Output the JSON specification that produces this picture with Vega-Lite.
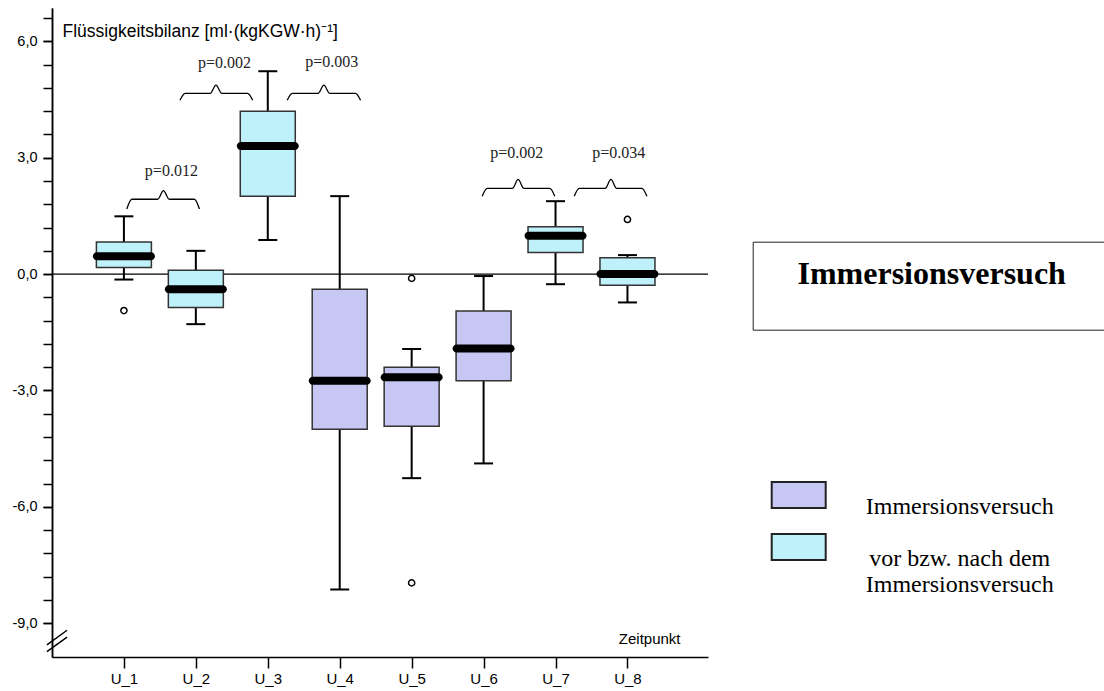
{
  "$schema": "https://vega.github.io/schema/vega-lite/v6.json",
  "width": 656,
  "height": 649,
  "autosize": {"type": "none"},
  "padding": {"left": 52, "top": 8, "right": 396, "bottom": 34},
  "background": "white",
  "resolve": {"axis": {"y": "independent"}},
  "config": {
    "view": {"stroke": null},
    "axis": {"grid": false, "domainColor": "black", "tickColor": "black", "labelColor": "black", "titleColor": "black", "domainWidth": 1.5, "tickWidth": 1.5}
  },
  "datasets": {
    "boxes": [
      {"t": 1, "grp": "vor bzw. nach dem Immersionsversuch", "lower": -0.14, "q1": 0.17, "median": 0.46, "q3": 0.83, "upper": 1.49},
      {"t": 2, "grp": "vor bzw. nach dem Immersionsversuch", "lower": -1.29, "q1": -0.86, "median": -0.39, "q3": 0.10, "upper": 0.60},
      {"t": 3, "grp": "vor bzw. nach dem Immersionsversuch", "lower": 0.88, "q1": 2.01, "median": 3.30, "q3": 4.20, "upper": 5.23},
      {"t": 4, "grp": "Immersionsversuch", "lower": -8.13, "q1": -4.00, "median": -2.75, "q3": -0.39, "upper": 2.01},
      {"t": 5, "grp": "Immersionsversuch", "lower": -5.26, "q1": -3.92, "median": -2.66, "q3": -2.40, "upper": -1.93},
      {"t": 6, "grp": "Immersionsversuch", "lower": -4.88, "q1": -2.75, "median": -1.92, "q3": -0.95, "upper": -0.05},
      {"t": 7, "grp": "vor bzw. nach dem Immersionsversuch", "lower": -0.26, "q1": 0.56, "median": 0.99, "q3": 1.22, "upper": 1.88},
      {"t": 8, "grp": "vor bzw. nach dem Immersionsversuch", "lower": -0.73, "q1": -0.29, "median": 0.0, "q3": 0.42, "upper": 0.49}
    ],
    "outliers": [
      {"t": 1, "v": -0.94},
      {"t": 5, "v": -0.11},
      {"t": 5, "v": -7.96},
      {"t": 8, "v": 1.41}
    ],
    "braces": [
      {"id": 1, "i": 1, "x": 1.04, "y": 1.68}, {"id": 1, "i": 2, "x": 1.11, "y": 1.93}, {"id": 1, "i": 3, "x": 1.47, "y": 1.93}, {"id": 1, "i": 4, "x": 1.55, "y": 2.15}, {"id": 1, "i": 5, "x": 1.63, "y": 1.93}, {"id": 1, "i": 6, "x": 1.98, "y": 1.93}, {"id": 1, "i": 7, "x": 2.05, "y": 1.68},
      {"id": 2, "i": 1, "x": 1.78, "y": 4.48}, {"id": 2, "i": 2, "x": 1.85, "y": 4.66}, {"id": 2, "i": 3, "x": 2.20, "y": 4.66}, {"id": 2, "i": 4, "x": 2.28, "y": 4.87}, {"id": 2, "i": 5, "x": 2.36, "y": 4.66}, {"id": 2, "i": 6, "x": 2.72, "y": 4.66}, {"id": 2, "i": 7, "x": 2.79, "y": 4.48},
      {"id": 3, "i": 1, "x": 3.27, "y": 4.48}, {"id": 3, "i": 2, "x": 3.34, "y": 4.66}, {"id": 3, "i": 3, "x": 3.70, "y": 4.66}, {"id": 3, "i": 4, "x": 3.78, "y": 4.87}, {"id": 3, "i": 5, "x": 3.86, "y": 4.66}, {"id": 3, "i": 6, "x": 4.22, "y": 4.66}, {"id": 3, "i": 7, "x": 4.29, "y": 4.48},
      {"id": 4, "i": 1, "x": 5.98, "y": 2.01}, {"id": 4, "i": 2, "x": 6.05, "y": 2.21}, {"id": 4, "i": 3, "x": 6.40, "y": 2.21}, {"id": 4, "i": 4, "x": 6.48, "y": 2.44}, {"id": 4, "i": 5, "x": 6.56, "y": 2.21}, {"id": 4, "i": 6, "x": 6.92, "y": 2.21}, {"id": 4, "i": 7, "x": 6.99, "y": 2.01},
      {"id": 5, "i": 1, "x": 7.26, "y": 2.01}, {"id": 5, "i": 2, "x": 7.33, "y": 2.21}, {"id": 5, "i": 3, "x": 7.69, "y": 2.21}, {"id": 5, "i": 4, "x": 7.77, "y": 2.44}, {"id": 5, "i": 5, "x": 7.85, "y": 2.21}, {"id": 5, "i": 6, "x": 8.20, "y": 2.21}, {"id": 5, "i": 7, "x": 8.27, "y": 2.01}
    ],
    "pvals": [
      {"x": 1.66, "y": 2.66, "label": "p=0.012"},
      {"x": 2.40, "y": 5.43, "label": "p=0.002"},
      {"x": 3.89, "y": 5.47, "label": "p=0.003"},
      {"x": 6.46, "y": 3.11, "label": "p=0.002"},
      {"x": 7.88, "y": 3.11, "label": "p=0.034"}
    ],
    "breaks": [
      {"x": -0.07, "y": -9.73, "x2": 0.21, "y2": -9.36},
      {"x": -0.07, "y": -9.56, "x2": 0.21, "y2": -9.18}
    ]
  },
  "layer": [
    {
      "data": {"values": [{"v": 0}]},
      "mark": {"type": "rule", "stroke": "black", "strokeWidth": 1.2},
      "encoding": {
        "y": {
          "field": "v", "type": "quantitative",
          "scale": {"domain": [-9.87, 6.86], "nice": false, "zero": false},
          "axis": {
            "orient": "left",
            "title": "Flüssigkeitsbilanz [ml·(kgKGW·h)⁻¹]",
            "titleFont": "Liberation Sans", "titleFontSize": 17.5, "titleFontWeight": "normal",
            "titleAngle": 0, "titleAlign": "left", "titleBaseline": "alphabetic", "titleX": 10, "titleY": 28,
            "values": [-9, -6, -3, 0, 3, 6],
            "labelExpr": "replace(replace(format(datum.value, '.1f'), '.', ','), '−', '-')",
            "labelFont": "Liberation Sans", "labelFontSize": 14.5, "labelPadding": 6, "tickSize": 9,
            "labelOverlap": false
          }
        },
        "strokeDash": {
          "datum": "Rahmen", "type": "nominal",
          "scale": {"range": [[1, 0]]},
          "legend": {
            "orient": "none", "legendX": 700.7, "legendY": 233.7,
            "title": "Immersionsversuch",
            "titleFont": "Liberation Serif", "titleFontSize": 32, "titleFontWeight": "bold", "titleColor": "black",
            "titleAnchor": "middle", "titleBaseline": "top", "titlePadding": 20, "titleLimit": 1000,
            "padding": 17, "strokeColor": "#222",
            "labelExpr": "' '", "labelFontSize": 2, "labelOpacity": 0, "labelOffset": 322,
            "symbolType": "M-1,0H1", "symbolSize": 4, "symbolOpacity": 0, "symbolStrokeWidth": 0,
            "encode": {
              "legend": {"update": {"strokeWidth": {"value": 1.5}}}
            }
          }
        }
      }
    },
    {
      "data": {"name": "boxes"},
      "mark": {"type": "rule", "stroke": "black", "strokeWidth": 2},
      "encoding": {
        "x": {
          "field": "t", "type": "quantitative", "title": "Zeitpunkt",
          "scale": {"domain": [0.07, 9.05], "nice": false, "zero": false},
          "axis": {
            "title": "Zeitpunkt",
            "titleFont": "Liberation Sans", "titleFontSize": 15, "titleFontWeight": "normal",
            "titleAlign": "right", "titleBaseline": "alphabetic", "titleX": 628, "titleY": -14,
            "values": [1, 2, 3, 4, 5, 6, 7, 8],
            "labelExpr": "'U_' + datum.value",
            "labelFont": "Liberation Sans", "labelFontSize": 15, "labelPadding": 3, "tickSize": 11
          }
        },
        "y": {
          "field": "lower", "type": "quantitative",
          "scale": {"domain": [-9.87, 6.86], "nice": false, "zero": false},
          "axis": {
            "orient": "left", "title": null, "labels": false, "tickSize": 9,
            "values": [-9, -8.4, -7.8, -7.2, -6.6, -6, -5.4, -4.8, -4.2, -3.6, -3, -2.4, -1.8, -1.2, -0.6, 0, 0.6, 1.2, 1.8, 2.4, 3, 3.6, 4.2, 4.8, 5.4, 6, 6.6]
          }
        },
        "y2": {"field": "upper"}
      }
    },
    {
      "data": {"name": "boxes"},
      "mark": {"type": "tick", "orient": "horizontal", "color": "black", "opacity": 1, "size": 19, "thickness": 2},
      "encoding": {
        "x": {"field": "t", "type": "quantitative", "title": "Zeitpunkt", "scale": {"domain": [0.07, 9.05], "nice": false, "zero": false}},
        "y": {"field": "lower", "type": "quantitative", "scale": {"domain": [-9.87, 6.86], "nice": false, "zero": false}, "axis": null}
      }
    },
    {
      "data": {"name": "boxes"},
      "mark": {"type": "tick", "orient": "horizontal", "color": "black", "opacity": 1, "size": 19, "thickness": 2},
      "encoding": {
        "x": {"field": "t", "type": "quantitative", "title": "Zeitpunkt", "scale": {"domain": [0.07, 9.05], "nice": false, "zero": false}},
        "y": {"field": "upper", "type": "quantitative", "scale": {"domain": [-9.87, 6.86], "nice": false, "zero": false}, "axis": null}
      }
    },
    {
      "data": {"name": "boxes"},
      "mark": {"type": "bar", "size": 55, "stroke": "#333333", "strokeWidth": 1.5, "opacity": 1},
      "encoding": {
        "x": {"field": "t", "type": "quantitative", "title": "Zeitpunkt", "scale": {"domain": [0.07, 9.05], "nice": false, "zero": false}},
        "y": {"field": "q3", "type": "quantitative", "scale": {"domain": [-9.87, 6.86], "nice": false, "zero": false}, "axis": null},
        "y2": {"field": "q1"},
        "fill": {
          "field": "grp", "type": "nominal",
          "scale": {"domain": ["Immersionsversuch", "vor bzw. nach dem Immersionsversuch"], "range": ["#c6c7f3", "#bff1fb"]},
          "legend": {
            "orient": "none", "legendX": 718.7, "legendY": 459,
            "title": null, "padding": 0, "rowPadding": 0,
            "symbolType": "M-1,-0.48H1V0.48H-1Z", "symbolSize": 2916,
            "symbolStrokeColor": "#222", "symbolStrokeWidth": 2,
            "labelFont": "Liberation Serif", "labelFontSize": 24, "labelColor": "black",
            "labelAlign": "center", "labelBaseline": "top", "labelOffset": 133, "labelLimit": 500,
            "labelExpr": "datum.label == 'vor bzw. nach dem Immersionsversuch' ? ['vor bzw. nach dem', 'Immersionsversuch'] : datum.label",
            "encode": {
              "symbols": {"update": {"stroke": {"value": "#222"}, "strokeWidth": {"value": 2}}},
              "labels": {"update": {"lineHeight": {"value": 27}}}
            }
          }
        }
      }
    },
    {
      "data": {"name": "boxes"},
      "mark": {"type": "tick", "orient": "horizontal", "color": "black", "opacity": 1, "size": 62, "thickness": 8, "cornerRadius": 4},
      "encoding": {
        "x": {"field": "t", "type": "quantitative", "title": "Zeitpunkt", "scale": {"domain": [0.07, 9.05], "nice": false, "zero": false}},
        "y": {"field": "median", "type": "quantitative", "scale": {"domain": [-9.87, 6.86], "nice": false, "zero": false}, "axis": null}
      }
    },
    {
      "data": {"name": "outliers"},
      "mark": {"type": "point", "shape": "circle", "size": 38, "filled": true, "fill": "white", "stroke": "black", "strokeWidth": 1.5, "opacity": 1},
      "encoding": {
        "x": {"field": "t", "type": "quantitative", "title": "Zeitpunkt", "scale": {"domain": [0.07, 9.05], "nice": false, "zero": false}},
        "y": {"field": "v", "type": "quantitative", "scale": {"domain": [-9.87, 6.86], "nice": false, "zero": false}, "axis": null}
      }
    },
    {
      "data": {"name": "braces"},
      "mark": {"type": "line", "interpolate": "monotone", "stroke": "black", "strokeWidth": 1.3},
      "encoding": {
        "x": {"field": "x", "type": "quantitative", "title": "Zeitpunkt", "scale": {"domain": [0.07, 9.05], "nice": false, "zero": false}},
        "y": {"field": "y", "type": "quantitative", "scale": {"domain": [-9.87, 6.86], "nice": false, "zero": false}, "axis": null},
        "detail": {"field": "id", "type": "nominal"},
        "order": {"field": "i", "type": "quantitative"}
      }
    },
    {
      "data": {"name": "pvals"},
      "mark": {"type": "text", "font": "Liberation Serif", "fontSize": 16, "color": "#222", "align": "center", "baseline": "middle"},
      "encoding": {
        "x": {"field": "x", "type": "quantitative", "title": "Zeitpunkt", "scale": {"domain": [0.07, 9.05], "nice": false, "zero": false}},
        "y": {"field": "y", "type": "quantitative", "scale": {"domain": [-9.87, 6.86], "nice": false, "zero": false}, "axis": null},
        "text": {"field": "label"}
      }
    },
    {
      "data": {"name": "breaks"},
      "mark": {"type": "rule", "stroke": "black", "strokeWidth": 1.5},
      "encoding": {
        "x": {"field": "x", "type": "quantitative", "title": "Zeitpunkt", "scale": {"domain": [0.07, 9.05], "nice": false, "zero": false}},
        "y": {"field": "y", "type": "quantitative", "scale": {"domain": [-9.87, 6.86], "nice": false, "zero": false}, "axis": null},
        "x2": {"field": "x2"},
        "y2": {"field": "y2"}
      }
    }
  ]
}
